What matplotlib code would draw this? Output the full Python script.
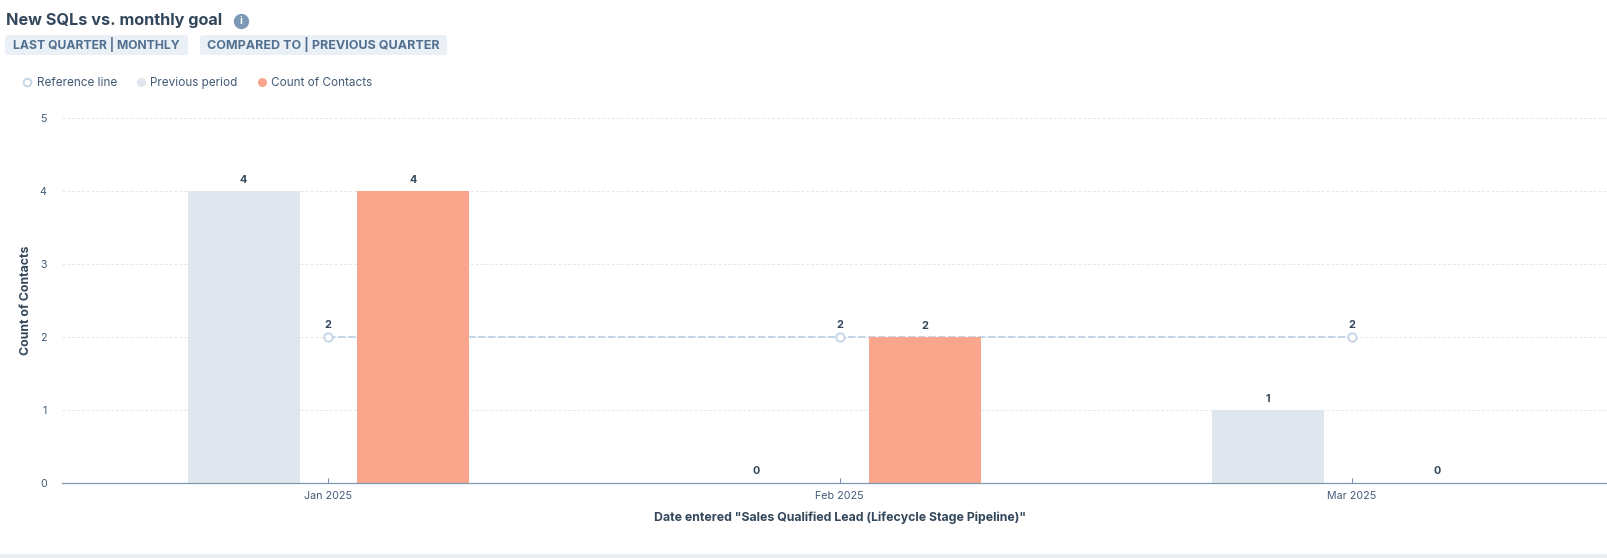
import matplotlib
matplotlib.use("Agg")
import matplotlib.pyplot as plt
from matplotlib.patches import FancyBboxPatch, Rectangle
from matplotlib.lines import Line2D
from matplotlib.transforms import Affine2D

months = ["Jan 2025", "Feb 2025", "Mar 2025"]
previous_period = [4, 0, 1]
count_of_contacts = [4, 2, 0]
reference_line = [2, 2, 2]
y_ticks = [0, 1, 2, 3, 4, 5]

TITLE = "New SQLs vs. monthly goal"
PILLS = ["LAST QUARTER | MONTHLY", "COMPARED TO | PREVIOUS QUARTER"]
X_LABEL = 'Date entered "Sales Qualified Lead (Lifecycle Stage Pipeline)"'
Y_LABEL = "Count of Contacts"

W, H = 1607, 558
DARK = "#33475b"
MID = "#425b76"
plt.rcParams["font.family"] = ["Inter", "DejaVu Sans"]

fig = plt.figure(figsize=(W / 100, H / 100), dpi=100, facecolor="white")


def fx(px):
    return px / W


def fy(py):
    return 1 - py / H


ax_left, ax_right, ax_top, ax_bot = 62, 1607, 118.3, 483
ax = fig.add_axes([fx(ax_left), fy(ax_bot), fx(ax_right - ax_left), (ax_bot - ax_top) / H])
ax.set_facecolor("none")
x0_px = 327.5
spacing = 512.2
ax.set_xlim((ax_left - x0_px) / spacing, (ax_right - x0_px) / spacing)
ax.set_ylim(0, 5)

xs = list(range(len(months)))
off_prev = 84 / spacing
off_cur = 85.5 / spacing
bw = 112 / spacing
prev_c = "#dfe6ee"
cur_c = "#faa68c"
line_c = "#c6d6e6"

ax.yaxis.grid(True, color="#e3e7ee", linestyle=(0, (3, 2)), linewidth=0.7, zorder=0)
ax.set_axisbelow(True)
ax.plot(xs, reference_line, color=line_c, linewidth=1.5, linestyle=(0, (3.6, 1.2)),
        marker="o", markersize=6, markerfacecolor="white",
        markeredgecolor=line_c, markeredgewidth=1.4, zorder=2)
ax.bar([x - off_prev for x in xs], previous_period, width=bw, color=prev_c, zorder=3)
ax.bar([x + off_cur for x in xs], count_of_contacts, width=bw, color=cur_c, zorder=3)

lab = dict(ha="center", va="center", fontsize=7.8, fontweight="bold", color=DARK, zorder=5)
for x, v in zip(xs, previous_period):
    ax.annotate(str(v), (x - off_prev, v), xytext=(0, 11.5 * 0.72), textcoords="offset points", **lab)
for x, v in zip(xs, count_of_contacts):
    ax.annotate(str(v), (x + off_cur, v), xytext=(0, 11.5 * 0.72), textcoords="offset points", **lab)
for x, v in zip(xs, reference_line):
    ax.annotate(str(v), (x, v), xytext=(0, 12.3 * 0.72), textcoords="offset points", **lab)

for s in ["top", "right", "left"]:
    ax.spines[s].set_visible(False)
ax.spines["bottom"].set_color("#7c98b6")
ax.spines["bottom"].set_linewidth(0.9)
ax.spines["bottom"].set_zorder(6)
ax.set_xticks(xs, months)
ax.set_yticks(y_ticks)
ax.tick_params(axis="x", direction="in", length=3.8, width=0.8, color="#7c98b6",
               labelsize=7.7, labelcolor=MID, pad=5.8)
ax.tick_params(axis="y", length=0, labelsize=7.7, labelcolor=MID, pad=11)

fig.text(fx(840.5), fy(517.6), X_LABEL, ha="center", va="center", fontsize=8.9,
         fontweight="bold", color=DARK)
fig.text(fx(25.6), fy(300), Y_LABEL, ha="center", va="center", rotation=90, fontsize=8.9,
         fontweight="bold", color=DARK)

# Header
fig.text(fx(5.7), fy(21), TITLE, ha="left", va="center", fontsize=11.7,
         fontweight="bold", color=DARK)
fig.add_artist(Line2D([fx(241)], [fy(21.3)], marker="o", markersize=10, color="#7c98b6",
                      linestyle="none", transform=fig.transFigure))
fig.text(fx(241), fy(21), "i", ha="center", va="center", fontsize=7.5, fontweight="bold",
         color="white")

px_tf = Affine2D().scale(1 / W, -1 / H) + Affine2D().translate(0, 1) + fig.transFigure
pill_boxes = [(5, 188), (200, 447)]
pill_sizes = [8.75, 9.0]
for (x0, x1), s, fs in zip(pill_boxes, PILLS, pill_sizes):
    fig.add_artist(FancyBboxPatch((x0 + 3, 35 + 3), x1 - x0 - 6, 20 - 6,
                                  boxstyle="round,pad=3,rounding_size=3",
                                  transform=px_tf, facecolor="#eaf0f6", edgecolor="none"))
    fig.text(fx((x0 + x1) / 2), fy(44), s, ha="center", va="center", fontsize=fs,
             fontweight="bold", color="#516f90")

# Legend
handles = [
    Line2D([], [], linestyle="none", marker="o", markersize=5.5, markerfacecolor="white",
           markeredgecolor=line_c, markeredgewidth=1.4, label="Reference line"),
    Line2D([], [], linestyle="none", marker="o", markersize=6.5, markerfacecolor=prev_c,
           markeredgecolor="none", label="Previous period"),
    Line2D([], [], linestyle="none", marker="o", markersize=6.5, markerfacecolor=cur_c,
           markeredgecolor="none", label="Count of Contacts"),
]
fig.legend(handles=handles, ncol=3, loc="center left",
           bbox_to_anchor=(fx(21.6), fy(82.7)), frameon=False, fontsize=8.45,
           labelcolor=MID, handlelength=1.0, handletextpad=0.28, columnspacing=1.55,
           borderpad=0, borderaxespad=0)

# Bottom strip
fig.add_artist(Rectangle((0, 0), 1, 3.7 / H, transform=fig.transFigure,
                         facecolor="#eaeef2", edgecolor="none"))

fig.savefig("out.png", dpi=100, facecolor="white")
